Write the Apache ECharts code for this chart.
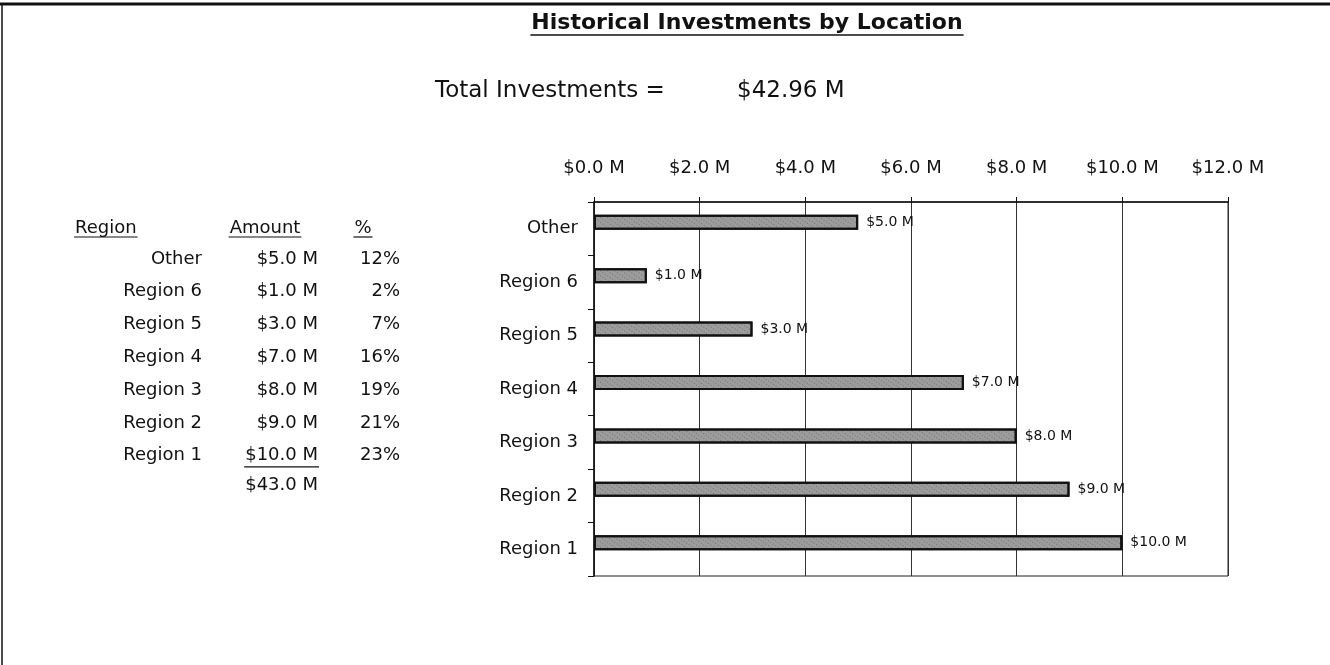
<!DOCTYPE html>
<html>
<head>
<meta charset="utf-8">
<title>Historical Investments by Location</title>
<script src="https://cdn.jsdelivr.net/npm/echarts@6/dist/echarts.min.js"></script>
<style>
  html, body { margin: 0; padding: 0; background: #fff; }
  #chart { width: 1330px; height: 665px; }
</style>
</head>
<body>
<div id="chart"></div>
<script>
// data, top row first (as in the table)
var regions = ['Other', 'Region 6', 'Region 5', 'Region 4', 'Region 3', 'Region 2', 'Region 1']
var amounts = [5.0, 1.0, 3.0, 7.0, 8.0, 9.0, 10.0]
var shares = [12, 2, 7, 16, 19, 21, 23]
var totalInvestments = 42.96
var xTicks = [0, 2, 4, 6, 8, 10, 12]

// the scan is a little wide, DejaVu Sans is close to a stretched Arial
var FONT = '"DejaVu Sans", "Liberation Sans", Arial, sans-serif'

function money(v) {
  return '$' + v.toFixed(1) + ' M'
}

var measureCtx = document.createElement('canvas').getContext('2d')
function textWidth(s, font) {
  measureCtx.font = font
  return measureCtx.measureText(s).width
}

var chart = echarts.init(document.getElementById('chart'))

// left-hand table
var tableTop = 259
var rowH = 32.8
var graphics = []
function txt(x, y, s, align, size, weight, underlineY) {
  var font = (weight || 'normal') + ' ' + (size || 18) + 'px ' + FONT
  graphics.push({
    type: 'text', x: x, y: y, silent: true,
    style: {
      text: s, x: 0, y: 0, fill: '#111', font: font,
      align: align || 'left', verticalAlign: 'middle'
    }
  })
  if (underlineY) {
    var w = textWidth(s, font)
    var x0 = align === 'center' ? x - w / 2 : (align === 'right' ? x - w : x)
    line(x0 - 1, underlineY, x0 + w + 1, underlineY, weight === 'bold' ? 1.6 : 1.2)
  }
}
function line(x1, y1, x2, y2, w) {
  graphics.push({
    type: 'line', silent: true,
    shape: { x1: x1, y1: y1, x2: x2, y2: y2 },
    style: { stroke: '#111', lineWidth: w || 1 }
  })
}

// frame
line(0, 4, 1330, 4, 3)
line(2, 4, 2, 665, 1.5)

// title + total
txt(747, 23, 'Historical Investments by Location', 'center', 22, 'bold', 35)
txt(435, 91, 'Total Investments =', 'left', 23)
txt(737, 91, '$' + totalInvestments.toFixed(2) + ' M', 'left', 23)

// table headers
txt(75, 228, 'Region', 'left', 18, 'normal', 237)
txt(265, 228, 'Amount', 'center', 18, 'normal', 237)
txt(363, 228, '%', 'center', 18, 'normal', 237)

var total = 0
regions.forEach(function (r, i) {
  var y = tableTop + i * rowH
  var last = i === regions.length - 1
  txt(202, y, r, 'right')
  txt(318, y, money(amounts[i]), 'right', 18, 'normal', last ? y + 11 : 0)
  txt(400, y, shares[i] + '%', 'right')
  total += amounts[i]
})
txt(318, tableTop + regions.length * rowH - 3, money(total), 'right')

chart.setOption({
  animation: false,
  textStyle: { fontFamily: FONT },
  graphic: graphics,
  grid: {
    left: 594, right: 102, top: 202, bottom: 89,
    show: true, borderColor: '#222', borderWidth: 1
  },
  xAxis: {
    type: 'value',
    position: 'top',
    min: xTicks[0],
    max: xTicks[xTicks.length - 1],
    interval: 2,
    axisLine: { show: true, lineStyle: { color: '#111', width: 1.5 } },
    axisTick: { show: true, length: 5, lineStyle: { color: '#111' } },
    splitLine: { show: true, lineStyle: { color: '#333', width: 1 } },
    axisLabel: {
      margin: 25, fontSize: 18, color: '#111', fontFamily: FONT,
      formatter: function (v) { return money(v) }
    }
  },
  yAxis: {
    type: 'category',
    inverse: true,
    data: regions,
    axisLine: { show: true, lineStyle: { color: '#111', width: 1.5 } },
    axisTick: { show: true, length: 6, lineStyle: { color: '#111' } },
    splitLine: { show: false },
    axisLabel: { margin: 16, fontSize: 18, color: '#111', fontFamily: FONT }
  },
  series: [{
    type: 'bar',
    data: amounts,
    barWidth: 15,
    barGap: '80%',
    itemStyle: {
      color: '#9c9c9c', borderColor: '#111', borderWidth: 2,
      decal: {
        symbol: 'rect', symbolSize: 1, color: 'rgba(60,60,60,0.45)',
        dashArrayX: [1, 2], dashArrayY: [1, 3], rotation: 0.6
      }
    },
    label: {
      show: true, position: 'right', distance: 8,
      fontSize: 14, color: '#111', fontFamily: FONT,
      formatter: function (p) { return money(p.value) }
    }
  }, {
    // empty spacer series: keeps the bars a little above the band centre
    type: 'bar',
    data: regions.map(function () { return '-' }),
    barWidth: 1,
    barGap: '80%',
    silent: true
  }]
})
</script>
</body>
</html>
